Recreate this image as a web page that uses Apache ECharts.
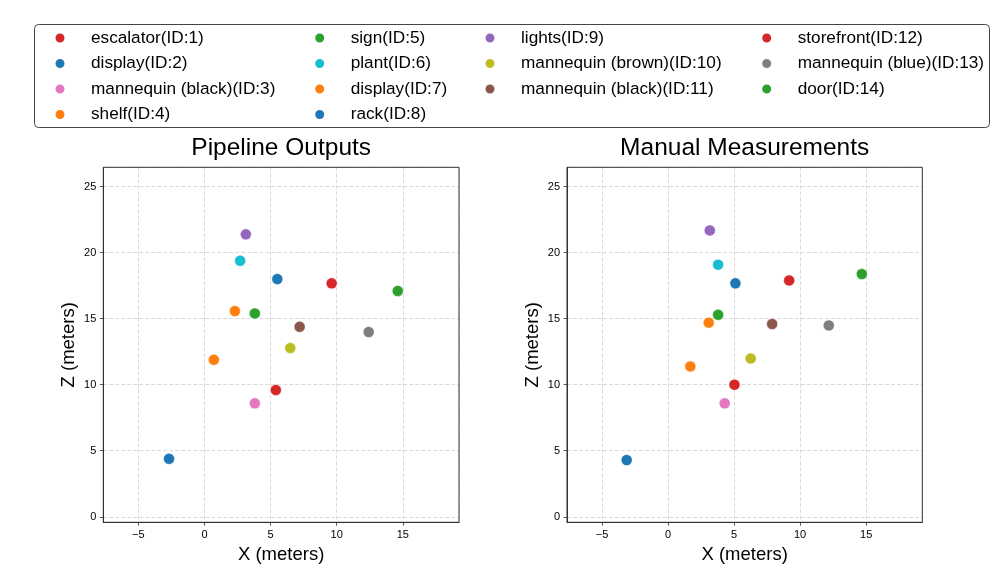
<!DOCTYPE html>
<html><head><meta charset="utf-8">
<script src="https://cdn.jsdelivr.net/npm/echarts@6/dist/echarts.min.js"></script>
<style>html,body{margin:0;padding:0;background:#fff}#c{width:996px;height:581px}</style>
</head><body><div id="c"></div>
<script>
const labels = ['escalator(ID:1)','display(ID:2)','mannequin (black)(ID:3)','shelf(ID:4)','sign(ID:5)','plant(ID:6)','display(ID:7)','rack(ID:8)','lights(ID:9)','mannequin (brown)(ID:10)','mannequin (black)(ID:11)','storefront(ID:12)','mannequin (blue)(ID:13)','door(ID:14)'];
const colors = ['#d62728','#1f77b4','#e377c2','#ff7f0e','#2ca02c','#17becf','#ff7f0e','#1f77b4','#9467bd','#bcbd22','#8c564b','#d62728','#7f7f7f','#2ca02c'];
const pipelineX = [5.40, 5.51, 3.81, 0.71, 3.81, 2.70, 2.30, -2.68, 3.13, 6.49, 7.20, 9.62, 12.42, 14.62];
const pipelineZ = [9.60, 18.00, 8.59, 11.89, 15.40, 19.39, 15.58, 4.39, 21.39, 12.78, 14.39, 17.68, 13.99, 17.10];
const manualX = [5.03, 5.10, 4.29, 1.69, 3.79, 3.79, 3.08, -3.13, 3.16, 6.26, 7.88, 9.17, 12.17, 14.67];
const manualZ = [10.00, 17.68, 8.59, 11.39, 15.30, 19.09, 14.70, 4.29, 21.69, 11.99, 14.60, 17.90, 14.49, 18.38];
const xTickValues = [-5, 0, 5, 10, 15];
const zTickValues = [0, 5, 10, 15, 20, 25];
const titles = ['Pipeline Outputs', 'Manual Measurements'];
const legendColumns = [[0,1,2,3],[4,5,6,7],[8,9,10],[11,12,13]];

const FONT = '"Liberation Sans", Arial, Helvetica, sans-serif';
const chart = echarts.init(document.getElementById('c'), null, {renderer: 'canvas'});
const fmt = (ticks) => (v) => {
  if (!ticks.some(t => Math.abs(t - v) < 1e-6)) return '';
  return v < 0 ? '\u2212' + Math.abs(v) : String(v);
};
const gridDefs = [
  {left: 103.3, top: 167.3, width: 355.7, height: 355},
  {left: 567, top: 167.3, width: 355.3, height: 355}
];
function xAxis(i) {
  return {
    type: 'value', gridIndex: i, min: -7.65, max: 19.25, splitNumber: 5,
    name: 'X (meters)', nameLocation: 'middle', nameGap: 23,
    nameTextStyle: {fontFamily: FONT, fontSize: 18.5, color: '#000'},
    axisLine: {show: true, onZero: false, lineStyle: {color: '#333', width: 1}},
    axisTick: {show: true, inside: false, length: 3.5, lineStyle: {color: '#333', width: 0.8}},
    axisLabel: {show: true, margin: 7, fontFamily: FONT, fontSize: 11, color: '#000', formatter: fmt(xTickValues), showMinLabel: false, showMaxLabel: false},
    splitLine: {show: true, lineStyle: {color: '#d0d0d0', type: [4, 2], width: 0.8}}
  };
}
function yAxis(i) {
  return {
    type: 'value', gridIndex: i, min: -0.42, max: 26.47, splitNumber: 5,
    name: 'Z (meters)', nameLocation: 'middle', nameGap: 25, nameRotate: 90,
    nameTextStyle: {fontFamily: FONT, fontSize: 18.5, color: '#000'},
    axisLine: {show: true, onZero: false, lineStyle: {color: '#333', width: 1}},
    axisTick: {show: true, inside: false, length: 3.5, lineStyle: {color: '#333', width: 0.8}},
    axisLabel: {show: true, margin: 7, fontFamily: FONT, fontSize: 11, color: '#000', formatter: fmt(zTickValues), showMinLabel: false, showMaxLabel: false},
    splitLine: {show: true, lineStyle: {color: '#d0d0d0', type: [4, 2], width: 0.8}}
  };
}
const series = [];
[[pipelineX, pipelineZ], [manualX, manualZ]].forEach(([xs, zs], g) => {
  labels.forEach((name, k) => {
    series.push({
      type: 'scatter', name: name, xAxisIndex: g, yAxisIndex: g,
      data: [[xs[k], zs[k]]], symbol: 'circle', symbolSize: 11,
      itemStyle: {color: colors[k], opacity: 1, borderColor: '#fff', borderWidth: 0.4},
      emphasis: {disabled: true}, z: 3
    });
  });
});
const legendLefts = [53.5, 313.2, 483.5, 760.2];
const legends = legendColumns.map((col, c) => ({
  orient: 'vertical', left: legendLefts[c], top: 28,
  data: col.map(k => ({name: labels[k], icon: 'circle', itemStyle: {color: colors[k]}})),
  itemWidth: 11, itemHeight: 11, itemGap: 5.5,
  padding: 0, selectedMode: false,
  textStyle: {fontFamily: FONT, fontSize: 17.2, color: '#000', lineHeight: 20, padding: [0, 0, 0, 20.5]}
}));
const frames = gridDefs.map(d => ({
  type: 'rect', shape: {x: d.left, y: d.top, width: d.width, height: d.height},
  style: {fill: 'none', stroke: '#333', lineWidth: 1}, z: 20
}));
chart.setOption({
  animation: false,
  backgroundColor: '#fff',
  grid: gridDefs.map(d => Object.assign({show: false, containLabel: false, outerBoundsMode: 'none'}, d)),
  xAxis: [xAxis(0), xAxis(1)],
  yAxis: [yAxis(0), yAxis(1)],
  legend: legends,
  series: series,
  graphic: frames.concat([
    {type: 'rect', shape: {x: 34.5, y: 24.5, width: 955, height: 103, r: 4}, style: {fill: 'none', stroke: '#444', lineWidth: 1}, z: 10},
    {type: 'text', x: 281.2, y: 148, style: {text: titles[0], font: '24.5px ' + FONT, fill: '#000', textAlign: 'center', textVerticalAlign: 'middle'}},
    {type: 'text', x: 744.7, y: 148, style: {text: titles[1], font: '24.5px ' + FONT, fill: '#000', textAlign: 'center', textVerticalAlign: 'middle'}}
  ])
});
</script>
</body></html>
